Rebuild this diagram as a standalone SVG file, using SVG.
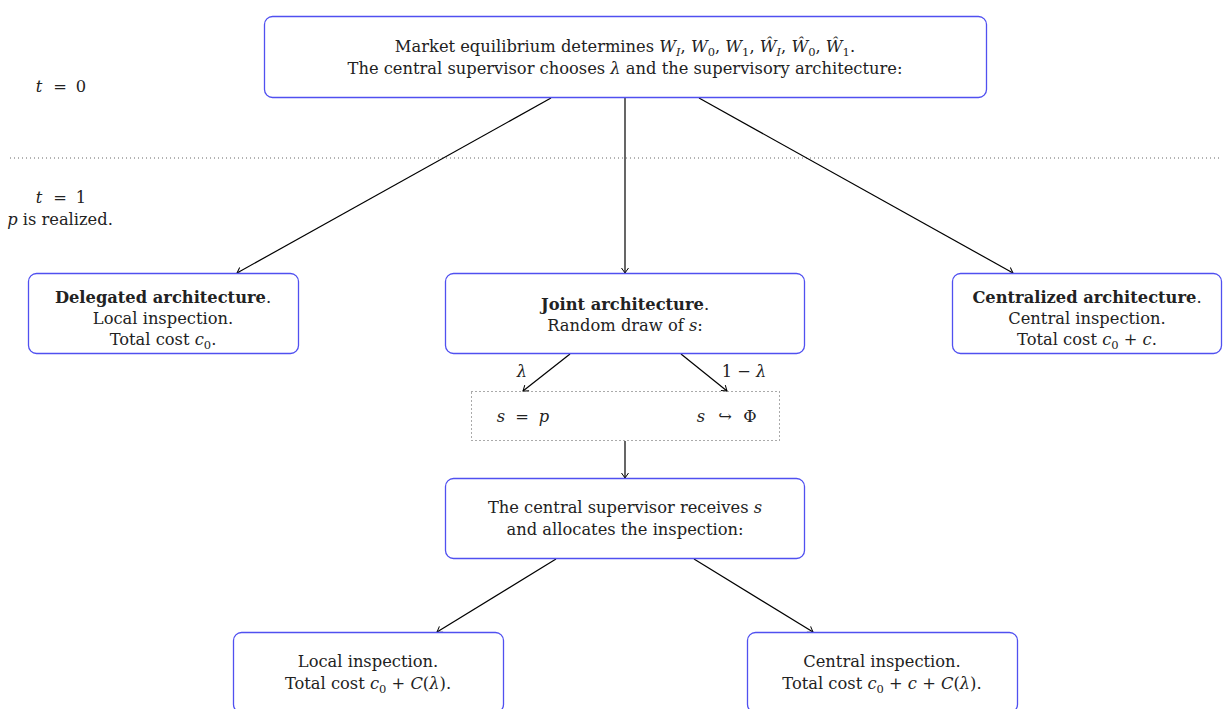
<svg xmlns="http://www.w3.org/2000/svg" width="1224" height="709" viewBox="0 0 1224 709">
<style>
.box{fill:#fff;stroke:#5050f0;stroke-width:1.3}
.t{font-family:"DejaVu Serif","Liberation Serif",serif;font-size:16.3px;fill:#222;text-anchor:middle}
.b{font-weight:bold}
.i{font-style:italic}
.e{stroke:#000;stroke-width:1.2;fill:none;marker-end:url(#ah)}
</style>
<defs>
<marker id="ah" viewBox="-6 -5 8 10" markerWidth="8" markerHeight="10" refX="0" refY="0" orient="auto" markerUnits="userSpaceOnUse">
<path d="M-5,-3.5 Q-1.5,-1 0,0 Q-1.5,1 -5,3.5" fill="none" stroke="#000" stroke-width="1"/>
</marker>
</defs>
<rect width="1224" height="709" fill="#fff"/>
<g id="labels">
<text class="t i" x="39" y="92">t</text><text class="t" x="60" y="92">=</text><text class="t" x="81" y="92">0</text>
<line x1="10" y1="158" x2="1222" y2="158" stroke="#666" stroke-width="1" stroke-dasharray="1,3"/>
<text class="t i" x="39" y="203">t</text><text class="t" x="60" y="203">=</text><text class="t" x="81" y="203">1</text>
<text class="t" x="60" y="225"><tspan class="i">p</tspan> is realized.</text>
</g>
<g id="connectors">
<line class="e" x1="551" y1="98" x2="237" y2="273"/>
<line class="e" x1="625" y1="98" x2="625" y2="273"/>
<line class="e" x1="699" y1="98" x2="1013" y2="273"/>
<line class="e" x1="570" y1="354" x2="523" y2="391"/>
<line class="e" x1="681" y1="354" x2="727" y2="391"/>
<line class="e" x1="625" y1="441" x2="625" y2="478"/>
<line class="e" x1="556" y1="559" x2="437" y2="632"/>
<line class="e" x1="694" y1="559" x2="813" y2="632"/>
<text class="t i" x="522" y="377">λ</text>
<text class="t" x="744" y="377">1 − <tspan class="i">λ</tspan></text>
</g>
<g id="top">
<rect class="box" x="264.5" y="16.5" width="722" height="81" rx="8"/>
<text class="t" x="625" y="52">Market equilibrium determines <tspan class="i">W</tspan><tspan class="i" font-size="11.5" dy="4">I</tspan><tspan dy="-4">, </tspan><tspan class="i">W</tspan><tspan font-size="11.5" dy="4">0</tspan><tspan dy="-4">, </tspan><tspan class="i">W</tspan><tspan font-size="11.5" dy="4">1</tspan><tspan dy="-4">, </tspan><tspan class="i">Ŵ</tspan><tspan class="i" font-size="11.5" dy="4">I</tspan><tspan dy="-4">, </tspan><tspan class="i">Ŵ</tspan><tspan font-size="11.5" dy="4">0</tspan><tspan dy="-4">, </tspan><tspan class="i">Ŵ</tspan><tspan font-size="11.5" dy="4">1</tspan><tspan dy="-4">.</tspan></text>
<text class="t" x="625" y="74">The central supervisor chooses <tspan class="i">λ</tspan> and the supervisory architecture:</text>
</g>
<g id="delegated">
<rect class="box" x="28.5" y="273.5" width="270" height="80" rx="8"/>
<text class="t" x="163" y="303"><tspan class="b">Delegated architecture</tspan>.</text>
<text class="t" x="163" y="324">Local inspection.</text>
<text class="t" x="163" y="345">Total cost <tspan class="i">c</tspan><tspan font-size="11.5" dy="4">0</tspan><tspan dy="-4">.</tspan></text>
</g>
<g id="joint">
<rect class="box" x="445.5" y="273.5" width="359" height="80" rx="8"/>
<text class="t" x="625" y="310"><tspan class="b">Joint architecture</tspan>.</text>
<text class="t" x="625" y="331">Random draw of <tspan class="i">s</tspan>:</text>
</g>
<g id="centralized">
<rect class="box" x="952.5" y="273.5" width="269" height="80" rx="8"/>
<text class="t" x="1087" y="303"><tspan class="b">Centralized architecture</tspan>.</text>
<text class="t" x="1087" y="324">Central inspection.</text>
<text class="t" x="1087" y="345">Total cost <tspan class="i">c</tspan><tspan font-size="11.5" dy="4">0</tspan><tspan dy="-4"> + </tspan><tspan class="i">c</tspan>.</text>
</g>
<g id="draw">
<rect x="471.5" y="391.5" width="308" height="49" fill="none" stroke="#555" stroke-width="1" stroke-dasharray="1,3"/>
<text class="t i" x="501" y="422">s</text><text class="t" x="522" y="422">=</text><text class="t i" x="544" y="422">p</text>
<text class="t i" x="701" y="422">s</text><text class="t" x="725" y="422">↪</text><text class="t" x="750" y="422">Φ</text>
</g>
<g id="receive">
<rect class="box" x="445.5" y="478.5" width="359" height="80" rx="8"/>
<text class="t" x="625" y="513">The central supervisor receives <tspan class="i">s</tspan></text>
<text class="t" x="625" y="535">and allocates the inspection:</text>
</g>
<g id="local">
<rect class="box" x="233.5" y="632.5" width="270" height="80" rx="8"/>
<text class="t" x="368" y="667">Local inspection.</text>
<text class="t" x="368" y="689">Total cost <tspan class="i">c</tspan><tspan font-size="11.5" dy="4">0</tspan><tspan dy="-4"> + </tspan><tspan class="i">C</tspan>(<tspan class="i">λ</tspan>).</text>
</g>
<g id="central">
<rect class="box" x="747.5" y="632.5" width="270" height="80" rx="8"/>
<text class="t" x="882" y="667">Central inspection.</text>
<text class="t" x="882" y="689">Total cost <tspan class="i">c</tspan><tspan font-size="11.5" dy="4">0</tspan><tspan dy="-4"> + </tspan><tspan class="i">c</tspan> + <tspan class="i">C</tspan>(<tspan class="i">λ</tspan>).</text>
</g>
</svg>
